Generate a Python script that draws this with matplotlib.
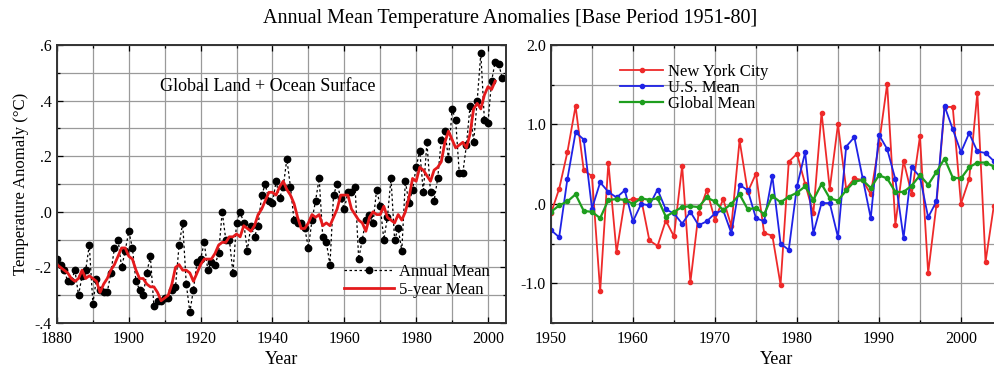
import numpy as np
import matplotlib
matplotlib.use("Agg")
import matplotlib.pyplot as plt
from matplotlib.ticker import MultipleLocator, FuncFormatter

plt.rcParams['font.family'] = ['Liberation Serif', 'DejaVu Serif']

# Left panel: global land + ocean annual mean anomalies (deg C)
years_glob = list(range(1880, 2005))
annual_mean = [
    -0.17, -0.19, -0.21, -0.25, -0.25, -0.21, -0.30, -0.23, -0.21, -0.12,
    -0.33, -0.24, -0.28, -0.29, -0.29, -0.22, -0.13, -0.10, -0.20, -0.14,
    -0.07, -0.13, -0.25, -0.28, -0.30, -0.22, -0.16, -0.34, -0.32, -0.32,
    -0.31, -0.31, -0.28, -0.27, -0.12, -0.04, -0.26, -0.36, -0.28, -0.18,
    -0.17, -0.11, -0.21, -0.18, -0.19, -0.15, 0.00, -0.10, -0.10, -0.22,
    -0.04, 0.00, -0.04, -0.14, -0.05, -0.09, -0.05, 0.06, 0.10, 0.04,
    0.03, 0.11, 0.05, 0.09, 0.19, 0.09, -0.03, -0.04, -0.04, -0.06,
    -0.13, -0.03, 0.04, 0.12, -0.09, -0.11, -0.19, 0.06, 0.10, 0.05,
    0.01, 0.07, 0.07, 0.09, -0.17, -0.10, -0.03, -0.01, -0.04, 0.08,
    0.02, -0.10, -0.02, 0.12, -0.10, -0.06, -0.14, 0.11, 0.03, 0.08,
    0.16, 0.22, 0.07, 0.25, 0.07, 0.04, 0.12, 0.26, 0.29, 0.19,
    0.37, 0.33, 0.14, 0.14, 0.24, 0.38, 0.25, 0.40, 0.57, 0.33,
    0.32, 0.47, 0.54, 0.53, 0.48,
]

years_5yr = list(range(1880, 2003))
five_year_mean = [
    -0.19, -0.20, -0.21, -0.22, -0.24, -0.25, -0.24, -0.21, -0.24, -0.23,
    -0.24, -0.25, -0.29, -0.26, -0.24, -0.21, -0.19, -0.16, -0.13, -0.13,
    -0.16, -0.17, -0.21, -0.24, -0.24, -0.26, -0.27, -0.27, -0.29, -0.32,
    -0.31, -0.30, -0.26, -0.20, -0.19, -0.21, -0.21, -0.22, -0.25, -0.22,
    -0.19, -0.17, -0.17, -0.17, -0.15, -0.12, -0.11, -0.11, -0.09, -0.09,
    -0.08, -0.09, -0.05, -0.06, -0.07, -0.05, -0.01, 0.01, 0.04, 0.07,
    0.07, 0.06, 0.09, 0.11, 0.08, 0.06, 0.03, -0.02, -0.06, -0.06,
    -0.04, -0.01, -0.02, -0.01, -0.05, -0.04, -0.05, -0.02, 0.01, 0.06,
    0.06, 0.06, 0.01, -0.01, -0.03, -0.04, -0.07, -0.02, 0.00, -0.01,
    -0.01, 0.02, -0.02, -0.03, -0.04, -0.01, -0.03, 0.00, 0.05, 0.12,
    0.11, 0.16, 0.15, 0.13, 0.11, 0.15, 0.16, 0.18, 0.25, 0.29,
    0.26, 0.23, 0.24, 0.25, 0.23, 0.28, 0.37, 0.39, 0.37, 0.42,
    0.45, 0.44, 0.47,
]

# Right panel: 1950-2004
years_loc = list(range(1950, 2005))
nyc = [
    -0.12, 0.19, 0.65, 1.23, 0.42, 0.35, -1.10, 0.52, -0.61, 0.04,
    0.06, 0.06, -0.46, -0.53, -0.21, -0.41, 0.48, -0.99, -0.12, 0.17,
    -0.20, 0.06, -0.28, 0.80, 0.15, 0.38, -0.37, -0.40, -1.02, 0.53,
    0.63, 0.25, -0.12, 1.15, 0.19, 1.00, 0.19, 0.32, 0.30, 0.12,
    0.75, 1.51, -0.26, 0.54, 0.12, 0.85, -0.87, -0.02, 1.22, 1.22,
    0.00, 0.31, 1.40, -0.73, -0.03,
]
us_mean = [
    -0.33, -0.42, 0.31, 0.90, 0.81, -0.06, 0.27, 0.15, 0.08, 0.17,
    -0.22, 0.00, -0.02, 0.18, -0.07, -0.12, -0.25, -0.10, -0.27, -0.22,
    -0.12, -0.08, -0.37, 0.24, 0.17, -0.18, -0.22, 0.35, -0.50, -0.58,
    0.22, 0.65, -0.37, 0.01, 0.01, -0.42, 0.72, 0.84, 0.33, -0.18,
    0.87, 0.69, 0.31, -0.43, 0.46, 0.34, -0.17, 0.03, 1.23, 0.94,
    0.65, 0.89, 0.66, 0.64, 0.54,
]
global_mean = [
    -0.10, -0.02, 0.03, 0.12, -0.09, -0.10, -0.18, 0.05, 0.06, 0.05,
    0.00, 0.07, 0.05, 0.07, -0.16, -0.10, -0.04, -0.03, -0.04, 0.08,
    0.03, -0.08, 0.00, 0.12, -0.07, -0.05, -0.13, 0.10, 0.02, 0.09,
    0.14, 0.22, 0.05, 0.25, 0.07, 0.04, 0.17, 0.28, 0.30, 0.20,
    0.36, 0.32, 0.15, 0.15, 0.23, 0.36, 0.24, 0.40, 0.57, 0.33,
    0.32, 0.46, 0.52, 0.52, 0.47,
]


def dot_fmt(v, pos):
    # labels like ".6", "-.2", ".0"
    s = "%.1f" % v
    if s.startswith("0."):
        s = s[1:]
    elif s.startswith("-0."):
        s = "-" + s[2:]
    if s == "-.0":
        s = ".0"
    return s


def right_fmt(v, pos):
    if abs(v) < 1e-9:
        return ".0"
    return "%.1f" % v


fig = plt.figure(figsize=(9.94, 3.67), dpi=100)
ax1 = fig.add_axes([0.0573, 0.1199, 0.4517, 0.7575])
ax2 = fig.add_axes([0.5543, 0.1199, 0.4537, 0.7575])

grid_kw = dict(color="#9a9a9a", linewidth=0.9)

# left panel
ax1.plot(years_glob, annual_mean, color="black", linestyle=(0, (2, 2)),
         linewidth=0.9, marker="o", markersize=4.6, label="Annual Mean")
ax1.plot(years_5yr, five_year_mean, color="#e41a1c", linewidth=2.0,
         label="5-year Mean")
ax1.set_xlim(1880, 2005)
ax1.set_ylim(-0.4, 0.6)
ax1.xaxis.set_major_locator(MultipleLocator(20))
ax1.xaxis.set_minor_locator(MultipleLocator(10))
ax1.yaxis.set_major_locator(MultipleLocator(0.2))
ax1.yaxis.set_minor_locator(MultipleLocator(0.1))
ax1.yaxis.set_major_formatter(FuncFormatter(dot_fmt))
ax1.grid(True, which="both", **grid_kw)
ax1.set_xlabel("Year", fontsize=13, labelpad=3)
ax1.set_ylabel("Temperature Anomaly (\u00b0C)", fontsize=12, labelpad=4)
ax1.text(0.47, 0.849, "Global Land + Ocean Surface", transform=ax1.transAxes,
         ha="center", va="center", fontsize=13)
ax1.legend(loc="lower right", frameon=False, fontsize=12, handlelength=3.0,
           borderaxespad=0.6, labelspacing=0.1, handletextpad=0.3,
           bbox_to_anchor=(1.0, 0.03))

# right panel
ax2.plot(years_loc, nyc, color="#ee2a2a", linewidth=1.3, marker="o",
         markersize=3, label="New York City")
ax2.plot(years_loc, us_mean, color="#1f22e6", linewidth=1.3, marker="o",
         markersize=3, label="U.S. Mean")
ax2.plot(years_loc, global_mean, color="#1e9e1e", linewidth=1.6, marker="o",
         markersize=3, label="Global Mean")
ax2.set_xlim(1950, 2005)
ax2.set_ylim(-1.5, 2.0)
ax2.xaxis.set_major_locator(MultipleLocator(10))
ax2.xaxis.set_minor_locator(MultipleLocator(5))
ax2.yaxis.set_major_locator(MultipleLocator(1.0))
ax2.yaxis.set_minor_locator(MultipleLocator(0.5))
ax2.yaxis.set_major_formatter(FuncFormatter(right_fmt))
ax2.grid(True, which="both", **grid_kw)
ax2.set_xlabel("Year", fontsize=13, labelpad=3)
ax2.legend(loc="upper left", frameon=False, fontsize=12, handlelength=2.6,
           labelspacing=0.0, handletextpad=0.3, bbox_to_anchor=(0.12, 0.985))

for ax in (ax1, ax2):
    ax.set_axisbelow(True)
    ax.tick_params(which="both", direction="in", top=True, right=True,
                   labelsize=11.5, length=4, width=0.9)
    ax.tick_params(which="minor", length=2)
    ax.tick_params(axis="x", pad=6)
    for sp in ax.spines.values():
        sp.set_linewidth(1.4)
        sp.set_color("#333333")

fig.text(0.513, 0.95, "Annual Mean Temperature Anomalies [Base Period 1951-80]",
         ha="center", va="center", fontsize=14.5)

fig.savefig("out.png", dpi=100)
